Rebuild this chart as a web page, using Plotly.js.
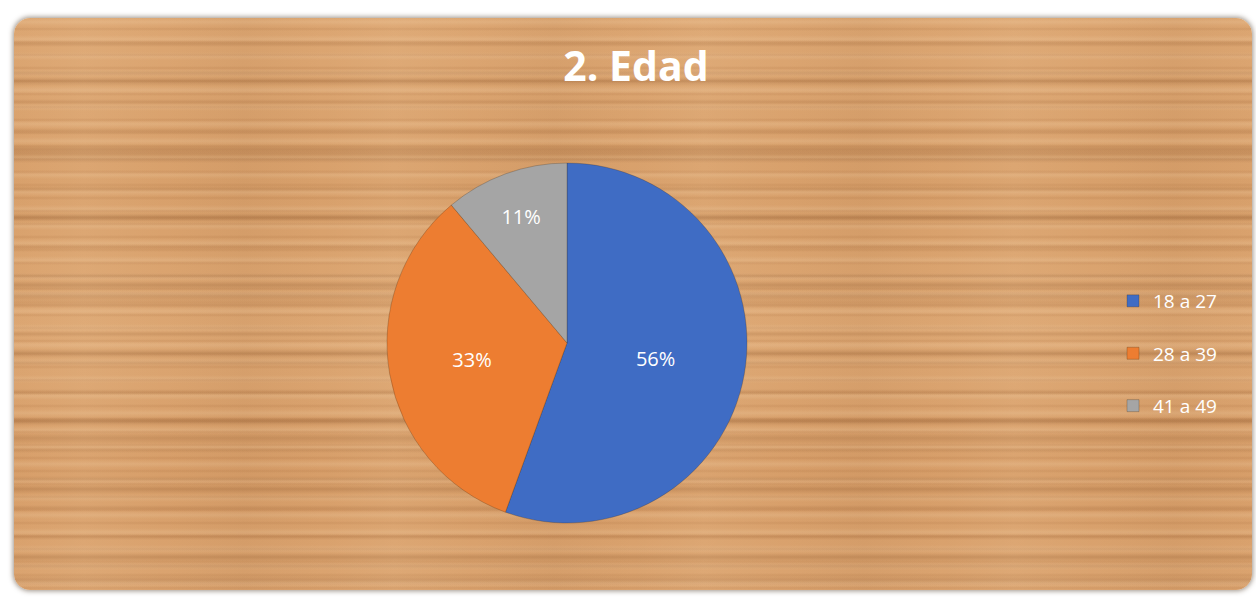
<!DOCTYPE html>
<html>
<head>
<meta charset="utf-8">
<script src="https://cdn.plot.ly/plotly-3.0.1.min.js"></script>
<style>
  html, body { margin: 0; padding: 0; background: #ffffff; }
  #wrap { position: relative; width: 1256px; height: 600px; overflow: hidden; }
  #wood {
    position: absolute; left: 14px; top: 18px; width: 1238px; height: 572px;
    border-radius: 16px;
    box-shadow: 0 0 5px 1px rgba(60,40,20,0.5);
    background:
      repeating-linear-gradient(90deg, rgba(255,225,185,0) 0px, rgba(255,225,185,0.08) 70px, rgba(255,225,185,0) 150px, rgba(120,70,30,0.05) 230px, rgba(255,225,185,0) 310px),
      repeating-linear-gradient(180deg, rgba(140,78,32,0) 0px, rgba(140,78,32,0) 9px, rgba(140,78,32,0.12) 11px, rgba(140,78,32,0) 13px),
      repeating-linear-gradient(180deg, rgba(125,68,26,0) 0px, rgba(125,68,26,0) 23px, rgba(125,68,26,0.16) 26px, rgba(125,68,26,0) 29px),
      repeating-linear-gradient(180deg, rgba(115,62,22,0) 0px, rgba(115,62,22,0) 59px, rgba(115,62,22,0.20) 63px, rgba(115,62,22,0) 68px),
      repeating-linear-gradient(180deg, rgba(115,62,22,0) 0px, rgba(115,62,22,0) 131px, rgba(115,62,22,0.16) 136px, rgba(115,62,22,0) 142px),
      repeating-linear-gradient(180deg, rgba(255,230,195,0) 0px, rgba(255,230,195,0.16) 4px, rgba(255,230,195,0) 8px, rgba(255,230,195,0) 17px),
      linear-gradient(180deg, #dca672 0%, #d8a06b 30%, #dca672 55%, #d79e69 80%, #dba470 100%);
  }
  #chart { position: absolute; left: 0; top: 0; width: 1256px; height: 600px; }
</style>
</head>
<body>
<div id="wrap">
  <div id="wood"></div>
  <div id="chart"></div>
</div>
<script>
// Data
var chartTitle = "2. Edad";
var categories = ["18 a 27", "28 a 39", "41 a 49"];
var counts = [5, 3, 1];
var sliceColors = ["#3f6cc4", "#ed7d31", "#a5a5a5"];

// legend labels carry a blank second line to widen row spacing
var legendLabels = categories.map(function (c) { return c + "<br> "; });

var trace = {
  type: "pie",
  labels: legendLabels,
  values: counts,
  sort: false,
  direction: "clockwise",
  rotation: 0,
  marker: { colors: sliceColors, line: { color: "rgba(70,45,20,0.45)", width: 0.6 } },
  texttemplate: "%{percent:.0%}",
  textposition: "inside",
  insidetextorientation: "horizontal",
  textfont: { family: "Open Sans, sans-serif", size: 20, color: "#ffffff" },
  hoverinfo: "label+value+percent",
  domain: { x: [387 / 1256, 747 / 1256], y: [77 / 600, 437 / 600] }
};

var layout = {
  width: 1256,
  height: 600,
  margin: { l: 0, r: 0, t: 0, b: 0 },
  paper_bgcolor: "rgba(0,0,0,0)",
  plot_bgcolor: "rgba(0,0,0,0)",
  title: {
    text: "<b>" + chartTitle + "</b>",
    font: { family: "Open Sans, sans-serif", size: 41, color: "#ffffff" },
    x: 636 / 1256, xanchor: "center",
    y: 1 - 67 / 600, yanchor: "middle", yref: "container"
  },
  showlegend: true,
  legend: {
    x: 1113 / 1256, xanchor: "left",
    y: (600 - 282) / 600, yanchor: "top",
    valign: "top",
    bgcolor: "rgba(0,0,0,0)",
    font: { family: "Open Sans, sans-serif", size: 19, color: "#ffffff" }
  }
};

Plotly.newPlot("chart", [trace], layout, { displayModeBar: false, staticPlot: true });
</script>
</body>
</html>
